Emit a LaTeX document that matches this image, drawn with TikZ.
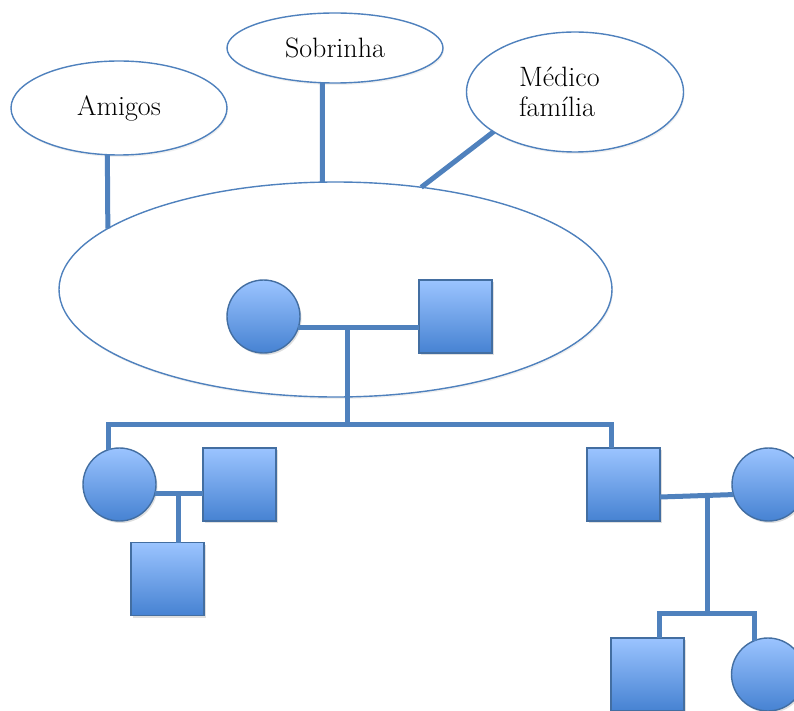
\documentclass[tikz,border=0pt]{standalone}
\usepackage{fontspec}
\usepackage{tikz}
\usetikzlibrary{shapes.geometric,shadows}
\definecolor{azul}{RGB}{79,129,189}
\definecolor{azulclaro}{RGB}{155,196,255}
\definecolor{azulescuro}{RGB}{70,130,210}

\begin{document}
\begin{tikzpicture}[x=1pt,y=-1pt,
  liga/.style={line width=5pt,draw=azul},
  grupo/.style={ellipse,draw=azul,line width=1.4pt,fill=white,inner sep=0pt,outer sep=0pt,
    font=\fontsize{28}{30}\selectfont,drop shadow={shadow xshift=1pt,shadow yshift=-2pt,opacity=0.12}},
  pessoa/.style={draw=azul!85!black,line width=1.4pt,top color=azulclaro,bottom color=azulescuro,
    minimum size=73pt,inner sep=0pt,outer sep=0pt,drop shadow={shadow xshift=1.5pt,shadow yshift=-2pt,opacity=0.25}},
  fem/.style={pessoa,circle},
  masc/.style={pessoa,rectangle}]
\clip (0,0) rectangle (794,711);

% rede social
\node[grupo,minimum width=553pt,minimum height=215pt] (nucleo) at (335.5,289.5) {};
\node[grupo,minimum width=216pt,minimum height=94pt] (amigos) at (119,108) {Amigos};
\node[grupo,minimum width=216pt,minimum height=70pt] (sobrinha) at (335,48) {Sobrinha};
\node[grupo,minimum width=217pt,minimum height=120pt,text width=112pt,align=left] (medico) at (575,92) {Médico\\família};

% casal
\node[fem] (mae) at (263.5,316.5) {};
\node[masc] (pai) at (455.5,316.5) {};

% filhos
\node[fem] (filha) at (119.5,484.5) {};
\node[masc] (genro) at (239.5,484.5) {};
\node[masc] (neto) at (167.5,579) {};
\node[masc] (filho) at (623.5,484.5) {};
\node[fem] (nora) at (768.5,484.5) {};
\node[masc] (neto2) at (647.5,674.5) {};
\node[fem] (neta) at (768,674.5) {};

\coordinate (uniao1) at (347,328);
\coordinate (irmaos) at (347,424);
\coordinate (uniao2) at (178,494);
\coordinate (uniao3) at (707,496);
\coordinate (irmaos2) at (707,613);

% ligacoes
\draw[liga] (amigos.-104) -- (nucleo.165.2);
\draw[liga] (sobrinha.-110.5) -- (nucleo.97.2);
\draw[liga] (medico.-154) -- (nucleo.50.5);

\draw[liga] (mae.-18) -- (mae.-18 -| pai.west);
\draw[liga] (uniao1) -- (irmaos);
\draw[liga] (filha.108) |- (irmaos) -| ([xshift=-12.5pt]filho.north);

\draw[liga] (filha.-15) -- (filha.-15 -| genro.west);
\draw[liga] (uniao2) -- (uniao2 |- neto.north);

\draw[liga] ([yshift=-12.5pt]filho.east) -- (nora.196.7);
\draw[liga] (uniao3) -- (irmaos2);
\draw[liga] ([xshift=11.5pt]neto2.north) |- (irmaos2) -| (neta.112.6);
\end{tikzpicture}
\end{document}
